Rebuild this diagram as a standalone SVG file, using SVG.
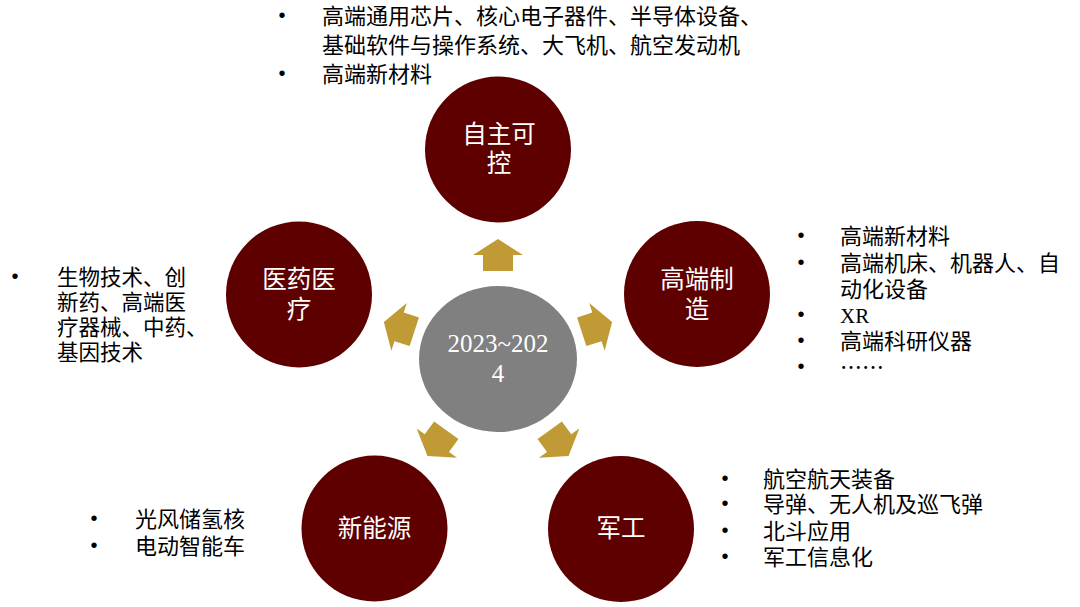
<svg xmlns="http://www.w3.org/2000/svg" width="1080" height="607" viewBox="0 0 1080 607">
<defs>
<style>
.node{fill:#5E0000;}
.lbl{font-family:"Noto Sans CJK SC","Noto Sans CJK TC",sans-serif;font-size:24.5px;fill:#FFFFFF;text-anchor:middle;}
.ctr{font-family:"Liberation Serif",serif;font-size:25px;fill:#FFFFFF;text-anchor:middle;}
.txt{font-family:"Noto Sans CJK SC","Noto Sans CJK TC",sans-serif;font-size:22px;fill:#000000;}
.txs{font-family:"Noto Sans CJK SC","Noto Sans CJK TC",sans-serif;font-size:21.5px;fill:#000000;}
.xr{font-family:"Liberation Serif",serif;font-size:21px;fill:#000000;}
.bul{font-family:"Liberation Sans",sans-serif;font-size:20px;fill:#000000;text-anchor:middle;}
.arr{fill:#BF9A35;}
</style>
<polygon id="arrow" points="498,239 523,255 513,255 513,271 483,271 483,255 473,255"/>
</defs>
<rect width="1080" height="607" fill="#FFFFFF"/>

<g id="connectors">
<use href="#arrow" class="arr"/>
<use href="#arrow" class="arr" transform="rotate(72 498 359)"/>
<use href="#arrow" class="arr" transform="rotate(144 498 359)"/>
<use href="#arrow" class="arr" transform="rotate(216 498 359)"/>
<use href="#arrow" class="arr" transform="rotate(288 498 359)"/>
</g>

<g id="center">
<ellipse cx="498" cy="359" rx="79" ry="73" fill="#808080"/>
<text class="ctr" x="498" y="352">2023~202</text>
<text class="ctr" x="498" y="382">4</text>
</g>

<g id="node-zizhu">
<circle class="node" cx="498" cy="149.5" r="73"/>
<text class="lbl" x="499" y="143">自主可</text>
<text class="lbl" x="499" y="172">控</text>
</g>

<g id="node-gaoduan">
<circle class="node" cx="697" cy="294" r="73"/>
<text class="lbl" x="697" y="288">高端制</text>
<text class="lbl" x="697" y="318">造</text>
</g>

<g id="node-yiyao">
<circle class="node" cx="299" cy="294.5" r="73"/>
<text class="lbl" x="299" y="288">医药医</text>
<text class="lbl" x="299" y="318">疗</text>
</g>

<g id="node-xinnengyuan">
<circle class="node" cx="374.5" cy="528.5" r="73"/>
<text class="lbl" x="374.5" y="537">新能源</text>
</g>

<g id="node-jungong">
<circle class="node" cx="621" cy="529" r="73"/>
<text class="lbl" x="621" y="537">军工</text>
</g>

<g id="list-top">
<text class="bul" x="282" y="22">•</text>
<text class="txt" x="322" y="24">高端通用芯片、核心电子器件、半导体设备、</text>
<text class="txt" x="322" y="53">基础软件与操作系统、大飞机、航空发动机</text>
<text class="bul" x="282" y="80">•</text>
<text class="txt" x="322" y="82">高端新材料</text>
</g>

<g id="list-right">
<text class="bul" x="801" y="242">•</text>
<text class="txt" x="840" y="244">高端新材料</text>
<text class="bul" x="801" y="268.5">•</text>
<text class="txt" x="840" y="270.5">高端机床、机器人、自</text>
<text class="txt" x="840" y="297">动化设备</text>
<text class="bul" x="801" y="321">•</text>
<text class="xr" x="840" y="323">XR</text>
<text class="bul" x="801" y="347">•</text>
<text class="txt" x="840" y="349">高端科研仪器</text>
<text class="bul" x="801" y="373">•</text>
<text class="txt" x="840" y="375">……</text>
</g>

<g id="list-left">
<text class="bul" x="15" y="283">•</text>
<text class="txs" x="57" y="285">生物技术、创</text>
<text class="txs" x="57" y="310">新药、高端医</text>
<text class="txs" x="57" y="335">疗器械、中药、</text>
<text class="txs" x="57" y="360">基因技术</text>
</g>

<g id="list-bottom-right">
<text class="bul" x="725" y="484.5">•</text>
<text class="txt" x="763" y="486.5">航空航天装备</text>
<text class="bul" x="725" y="510">•</text>
<text class="txt" x="763" y="512">导弹、无人机及巡飞弹</text>
<text class="bul" x="725" y="536.5">•</text>
<text class="txt" x="763" y="538.5">北斗应用</text>
<text class="bul" x="725" y="563">•</text>
<text class="txt" x="763" y="565">军工信息化</text>
</g>

<g id="list-bottom-left">
<text class="bul" x="94" y="525">•</text>
<text class="txt" x="135" y="527">光风储氢核</text>
<text class="bul" x="94" y="551.5">•</text>
<text class="txt" x="135" y="553.5">电动智能车</text>
</g>
</svg>
